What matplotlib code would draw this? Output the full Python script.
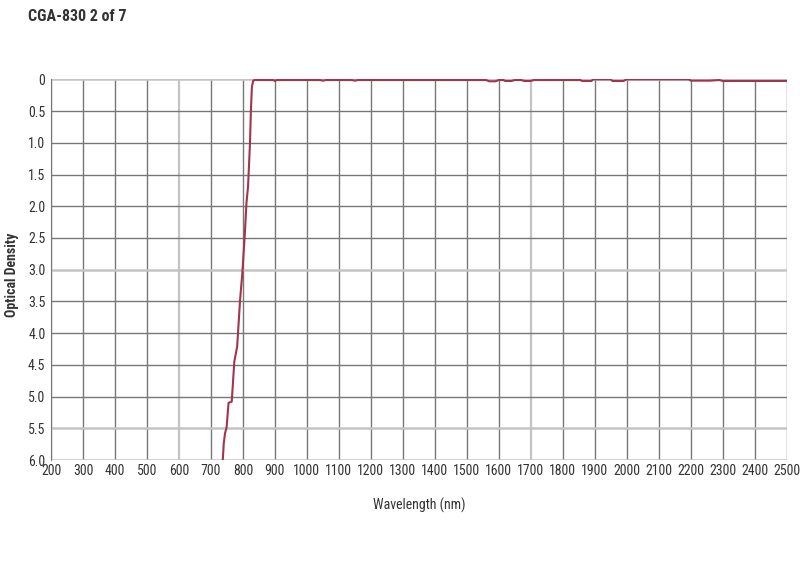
import matplotlib
matplotlib.use('Agg')
import matplotlib.pyplot as plt
from matplotlib import font_manager

# --- data ---
wavelength = [737, 740, 744, 749, 755, 765, 773, 782, 791, 798, 806, 811, 816,
              822, 825, 828, 832, 837, 880, 895, 900, 905, 1040, 1050, 1060,
              1140, 1150, 1160, 1560, 1570, 1590, 1600, 1615, 1620, 1640, 1650,
              1670, 1680, 1700, 1710, 1855, 1860, 1890, 1895, 1950, 1955, 1990,
              2000, 2195, 2200, 2260, 2290, 2300, 2500]
density = [6.0, 5.74, 5.58, 5.48, 5.10, 5.08, 4.45, 4.21, 3.48, 3.06, 2.43,
           1.95, 1.69, 1.01, 0.48, 0.12, 0.02, 0.01, 0.01, 0.01, 0.025, 0.01,
           0.01, 0.02, 0.01, 0.01, 0.02, 0.01, 0.01, 0.03, 0.03, 0.01, 0.01,
           0.025, 0.025, 0.01, 0.01, 0.025, 0.025, 0.01, 0.01, 0.025, 0.025,
           0.0, 0.0, 0.025, 0.025, 0.0, 0.0, 0.02, 0.02, 0.01, 0.025, 0.025]

x_ticks = list(range(200, 2501, 100))
y_ticks = [0, 0.5, 1.0, 1.5, 2.0, 2.5, 3.0, 3.5, 4.0, 4.5, 5.0, 5.5, 6.0]
y_labels = ['0'] + [f'{v:.1f}' for v in y_ticks[1:]]
light_x = [600, 1700]
light_y = [0, 3.0, 5.5, 6.0]

# narrow face if there is one, otherwise plain Liberation Sans a bit smaller
family, tick_size = 'Liberation Sans', 8.6
for cand in ['Liberation Sans Narrow', 'DejaVu Sans Condensed', 'Roboto Condensed']:
    try:
        font_manager.findfont(cand, fallback_to_default=False)
        family, tick_size = cand, 10
        break
    except ValueError:
        pass
plt.rcParams['font.family'] = [family, 'DejaVu Sans']

fig = plt.figure(figsize=(8, 5.67), dpi=100)
ax = fig.add_axes([0.0638, 0.1887, 0.9195, 0.6713])

dark = '#777777'
light = '#c4c4c4'
for xv in x_ticks:
    ax.axvline(xv, color=light if xv in light_x else dark,
               lw=1.6 if xv in light_x else 1.0, zorder=1)
for yv in y_ticks:
    ax.axhline(yv, color=light if yv in light_y else dark,
               lw=1.8 if yv in light_y else 1.0, zorder=1)

ax.plot(wavelength, density, color='#a3344e', lw=1.5, zorder=3)

ax.set_xlim(200, 2500)
ax.set_ylim(6.0, 0)
ax.set_xticks(x_ticks)
ax.set_yticks(y_ticks)
ax.set_yticklabels(y_labels)
ax.tick_params(length=0, labelsize=tick_size, colors='#333333', pad=4)
ax.tick_params(axis='x', pad=3)
for s in ['top', 'right', 'bottom']:
    ax.spines[s].set_visible(False)
ax.spines['left'].set_color(dark)

ax.set_xlabel('Wavelength (nm)', fontsize=tick_size, color='#333333', labelpad=14)
fig.text(0.015, 0.515, 'Optical Density', rotation=90, fontsize=tick_size,
         fontweight='bold', color='#333333', ha='center', va='center')
fig.text(0.035, 0.985, 'CGA-830 2 of 7', fontsize=tick_size + 1.5, fontweight='bold',
         color='#333333', ha='left', va='top')

fig.savefig('out.png', dpi=100)
